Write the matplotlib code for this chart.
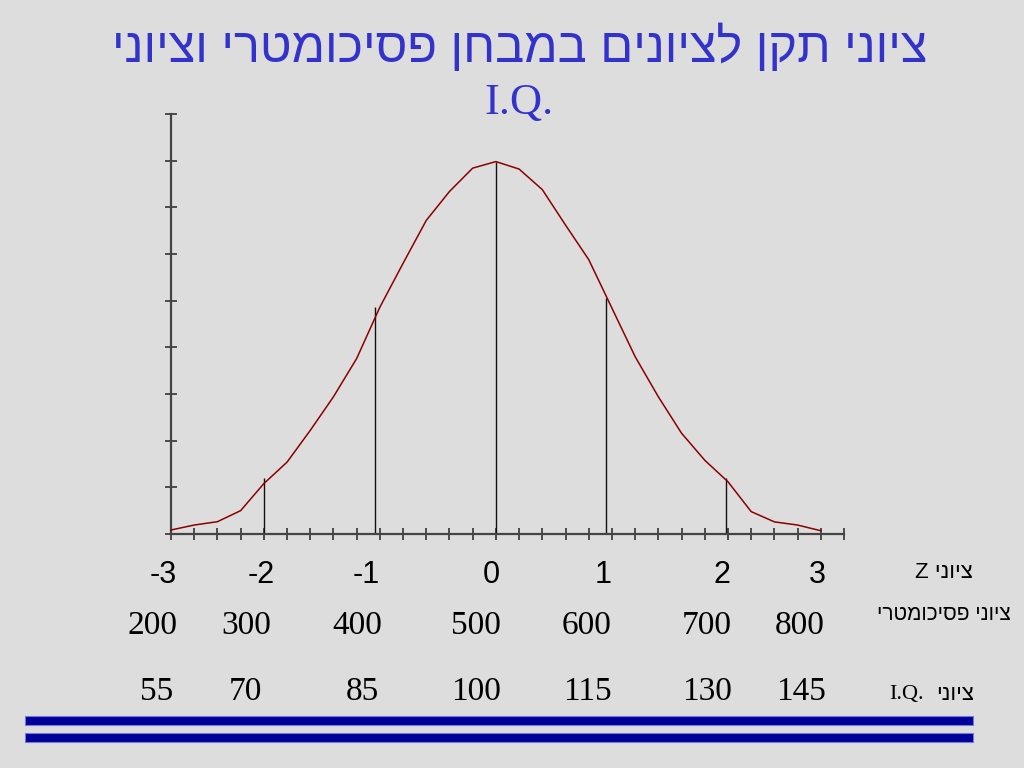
import numpy as np
import matplotlib
matplotlib.use('Agg')
import matplotlib.pyplot as plt
from matplotlib.patches import Rectangle
import matplotlib.transforms as mtransforms

# ── Datos ─────────────────────────────────────────────────────────────────────
# curve points (29 categories)
curve_idx = np.arange(29)
curve_val = [0.0043, 0.0096, 0.0132, 0.025, 0.054, 0.077, 0.111, 0.147, 0.188,
             0.243, 0.290, 0.336, 0.367, 0.392, 0.399, 0.391, 0.369, 0.331,
             0.294, 0.242, 0.190, 0.147, 0.108, 0.079, 0.056, 0.024, 0.013,
             0.0096, 0.0035]

# vertical marker lines (z = -2 .. 2)
mark_x = [4.0, 8.8, 14.0, 18.75, 23.9]
mark_h = [0.060, 0.243, 0.399, 0.253, 0.060]

z_labels = ['-3', '-2', '-1', '0', '1', '2', '3']
psy_labels = ['200', '300', '400', '500', '600', '700', '800']
iq_labels = ['55', '70', '85', '100', '115', '130', '145']

title_he = 'ציוני תקן לציונים במבחן פסיכומטרי וציוני'
row_z = 'ציוני Z'
row_psy = 'ציוני פסיכומטרי'
row_iq_he = 'ציוני'

# label centres (axis index units)
z_pos = [-0.34, 3.88, 8.41, 13.79, 18.62, 23.75, 27.84]
psy_pos = [-0.78, 3.23, 8.02, 13.15, 17.89, 23.10, 27.11]
iq_pos = [-0.60, 3.19, 8.23, 13.15, 17.93, 23.10, 27.16]

BG = '#DDDDDD'
SANS = ['Liberation Sans', 'DejaVu Sans']
SERIF = ['Liberation Serif', 'DejaVu Serif']


def rtl(s):
    """Orden visual simple para texto hebreo (matplotlib no hace bidi)."""
    words = s.split(' ')[::-1]
    out = []
    for w in words:
        if any('\u0590' <= ch <= '\u05FF' for ch in w):
            out.append(w[::-1])
        else:
            out.append(w)
    return ' '.join(out)


fig = plt.figure(figsize=(10.24, 7.68), dpi=100, facecolor=BG)
ax = fig.add_axes([171/1024, 1 - 534/768, (844 - 171)/1024, (534 - 114)/768])
ax.set_facecolor('none')

ax.plot(curve_idx, curve_val, color='#8B0000', lw=1.1, clip_on=False, zorder=3)
ax.vlines(mark_x, 0, mark_h, color='#111111', lw=1.0, zorder=2)

ax.set_xlim(0, 29)
ax.set_ylim(0, 0.45)
ax.set_xticks(np.arange(30))
ax.set_yticks(np.arange(0, 0.451, 0.05))
ax.set_xticklabels([])
ax.set_yticklabels([])
ax.tick_params(direction='inout', length=8, width=1.2, color='#333333')
for side in ('top', 'right'):
    ax.spines[side].set_visible(False)
for side in ('left', 'bottom'):
    ax.spines[side].set_color('#444444')
    ax.spines[side].set_linewidth(1.6)

# ── Filas de etiquetas ────────────────────────────────────────────────────────
trans = mtransforms.blended_transform_factory(ax.transData, fig.transFigure)
for x, s in zip(z_pos, z_labels):
    ax.text(x, 1 - 575/768, s, transform=trans, ha='center', va='center',
            fontsize=22, family=SANS, color='black', clip_on=False)
for x, s in zip(psy_pos, psy_labels):
    ax.text(x, 1 - 626/768, s, transform=trans, ha='center', va='center',
            fontsize=24, family=SERIF, color='black', clip_on=False)
for x, s in zip(iq_pos, iq_labels):
    ax.text(x, 1 - 692/768, s, transform=trans, ha='center', va='center',
            fontsize=24, family=SERIF, color='black', clip_on=False)

fig.text(944/1024, 1 - 572/768, rtl(row_z), ha='center', va='center',
         fontsize=16, family=SANS)
fig.text(944/1024, 1 - 614/768, rtl(row_psy), ha='center', va='center',
         fontsize=15, family=SANS)
fig.text(907/1024, 1 - 695/768, 'I.Q.', ha='center', va='center',
         fontsize=16, family=SERIF)
fig.text(955/1024, 1 - 695/768, rtl(row_iq_he), ha='center', va='center',
         fontsize=16, family=SANS)

# ── Título ────────────────────────────────────────────────────────────────────
fig.text(520/1024, 1 - 48/768, rtl(title_he), ha='center', va='center',
         fontsize=35, family=SANS, color='#3333CC')
fig.text(519/1024, 1 - 103/768, 'I.Q.', ha='center', va='center',
         fontsize=32, family=SERIF, color='#3333CC')

# ── Barras azules inferiores ──────────────────────────────────────────────────
for y0 in (716, 733):
    fig.add_artist(Rectangle((25/1024, 1 - (y0 + 9)/768), (973 - 25)/1024, 9/768,
                             transform=fig.transFigure, facecolor='#000099',
                             edgecolor='#7777DD', lw=0.8))

fig.savefig('out.png', dpi=100, facecolor=BG)
